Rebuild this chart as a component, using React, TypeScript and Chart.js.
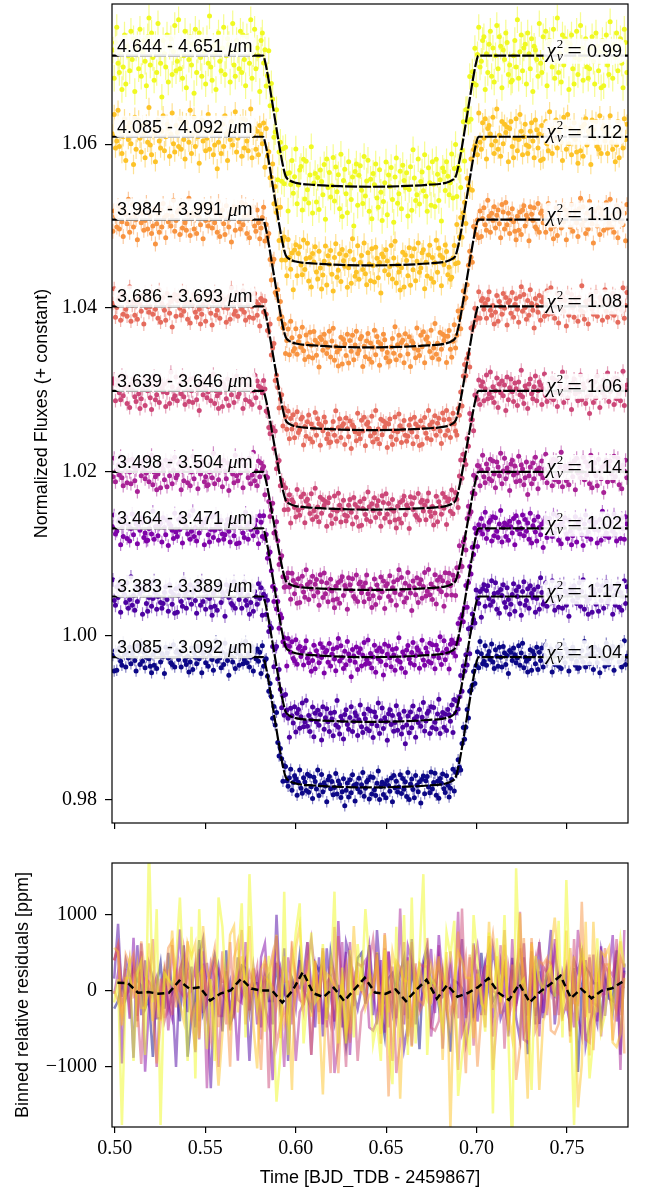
import { useEffect, useRef } from "react";
import { Chart, registerables } from "chart.js";

Chart.register(...registerables);

// ---------------- data ----------------
const WAVE_LABELS = [
  "4.644 - 4.651", "4.085 - 4.092", "3.984 - 3.991", "3.686 - 3.693", "3.639 - 3.646",
  "3.498 - 3.504", "3.464 - 3.471", "3.383 - 3.389", "3.085 - 3.092",
];
const CHI2_VALUES = ["0.99", "1.12", "1.10", "1.08", "1.06", "1.14", "1.02", "1.17", "1.04"];
const BASELINES = [1.0708, 1.0609, 1.0508, 1.0402, 1.0299, 1.0200, 1.0131, 1.0048, 0.9974];
const DEPTHS = [0.0160, 0.0157, 0.0156, 0.0151, 0.0145, 0.0144, 0.0157, 0.0153, 0.0159];
const SIGMAS = [0.0023, 0.0017, 0.0013, 0.0012, 0.0012, 0.0012, 0.0011, 0.0012, 0.0010];
const COLORS = ["#f0f921", "#fdc328", "#f89441", "#e56b5d", "#cc4778", "#a82296", "#7e03a8", "#4c02a1", "#0d0887"];
const NOISE_OFFSETS = [0, 47, 95, 141, 188, 236, 283, 331, 378];
// scatter about the model, in tenths of the per-point sigma
const NOISE_POOL = [
  3, -12, 7, 15, -4, -9, 1, -18, -6, 11,
  -15, 5, 0, -8, 13, -2, 9, -19, 4, 6,
  -7, 14, -11, 2, 8, -3, -16, 10, 20, -5,
  12, -1, -13, 6, -9, 17, 3, -4, -22, 8,
  1, -6, 11, -14, 5, 9, -10, 2, 16, -8,
  -3, 19, -7, 4, -12, 0, 13, -17, 7, -2,
  10, -5, 6, -20, 14, -9, 3, 12, -1, -11,
  8, 2, -15, 9, -4, 21, -6, -13, 5, 1,
  -18, 7, 12, -3, -8, 4, 15, -10, 0, 9,
  6, -14, 2, 17, -5, -11, 8, 3, -7, 13,
  -9, 11, -2, -16, 10, 5, -4, 19, -12, 1,
  14, -7, 4, 0, -19, 8, 12, -3, 6, -10,
  -1, 16, -9, 7, 3, -13, -6, 10, -23, -4,
  5, -12, 9, -7, 15, 2, -17, 4, -2, 11,
  -6, 3, 18, -11, -1, 7, 9, -14, 13, -8,
  12, -3, -10, 5, 20, -15, 1, 6, -9, 4,
  -13, 8, 2, -5, 11, -18, 14, -1, 7, -6,
  0, 15, -8, 10, -3, 6, -12, 17, -16, 3,
  9, -4, -14, 13, 1, -7, 5, -21, 8, 12,
  -10, 6, 11, -2, -9, 16, -5, 3, 14, -13,
  4, -17, 7, 1, 12, -6, -11, 9, -3, -18,
  -8, 2, 13, -15, 6, 0, 10, -7, -19, 5,
  15, -9, -4, 8, -12, 11, 3, -1, 7, -16,
  -2, 10, -13, 19, 4, -8, -5, 14, -10, 2,
  7, -3, 16, -6, -14, 9, 1, -11, 12, 0,
  -12, 13, 5, -9, 2, -20, 8, 6, -4, 11,
  3, -7, -1, 14, -10, 5, 17, -13, 0, -5,
  -18, -2, 9, -16, 7, 3, -8, 12, -15, 6,
  -4, 11, -12, 2, 15, -6, -3, 8, 10, -18,
  1, -9, 6, 13, -11, 4, -14, 0, 16, -7,
  10, 5, -17, 3, -2, 12, 7, -10, -5, -14,
  -13, 0, 8, -6, 19, -12, 2, 11, -8, 4,
  6, -15, 12, 1, -7, 9, -19, 5, 3, -2,
  -11, 17, -4, -9, 10, -1, 13, -16, 6, 8,
  2, -6, 14, -12, -3, 20, -9, 1, -14, 11,
  -5, 9, 3, 7, -18, 6, 11, -7, -15, -1,
  13, -10, -2, 16, 4, -13, 0, 9, -6, -12,
  -7, 4, 10, -3, -15, 12, 5, -8, 2, -17,
  8, -16, 1, 11, -5, -10, 18, 3, -12, 6,
  -1, 12, -8, 4, 9, -4, -17, 14, 7, -9,
  16, -5, 6, -13, 0, 10, -2, -11, -19, 3,
  -10, 7, -14, 9, 13, -6, 4, 1, -20, 12,
  5, -1, 11, -7, -9, 15, -12, 6, 8, -3,
];
const T_START = 0.499;
const CADENCE = 0.000712;
const N_POINTS = 400;
const BIN_SIZE = 3;
const MEAN_BIN_SIZE = 8;
// transit model shape (0 = out of transit, -1 = deepest)
const MODEL_T = [
  0.4985, 0.5820, 0.5832, 0.5850, 0.5870, 0.5890, 0.5910, 0.5930, 0.5945, 0.5965, 0.6000, 0.6100, 0.6250, 0.6415,
  0.6580, 0.6730, 0.6830, 0.6865, 0.6885, 0.6900, 0.6920, 0.6940, 0.6960, 0.6980, 0.6998, 0.7010, 0.7837,
];
const MODEL_S = [
  0, 0, -0.05, -0.18, -0.35, -0.52, -0.69, -0.84, -0.92, -0.95, -0.97, -0.985, -0.996, -1.0,
  -0.996, -0.985, -0.97, -0.95, -0.92, -0.84, -0.69, -0.52, -0.35, -0.18, -0.05, 0, 0,
];
const X_TICKS = [0.5, 0.55, 0.6, 0.65, 0.7, 0.75];
const FLUX_TICKS = [0.98, 1.0, 1.02, 1.04, 1.06];
const RESID_TICKS = [-1000, 0, 1000];
const X_MIN = 0.4985, X_MAX = 0.7837;
const FLUX_MIN = 0.97716, FLUX_MAX = 1.0771;
const RESID_MIN = -1789, RESID_MAX = 1680;

// ---------------- helpers ----------------
const SANS = '"Liberation Sans", Arial, sans-serif';
const SERIF = '"Liberation Serif", "Times New Roman", serif';

function rgba(hex: string, a: number) {
  const r = parseInt(hex.slice(1, 3), 16), g = parseInt(hex.slice(3, 5), 16), b = parseInt(hex.slice(5, 7), 16);
  return `rgba(${r},${g},${b},${a})`;
}
function modelShape(t: number) {
  for (let k = 0; k < MODEL_T.length - 1; k++) {
    if (t >= MODEL_T[k] && t <= MODEL_T[k + 1]) {
      const f = (t - MODEL_T[k]) / (MODEL_T[k + 1] - MODEL_T[k]);
      return MODEL_S[k] + f * (MODEL_S[k + 1] - MODEL_S[k]);
    }
  }
  return 0;
}
const TIMES = Array.from({ length: N_POINTS }, (_, j) => T_START + j * CADENCE);
const noiseOf = (i: number, j: number) => NOISE_POOL[(j + NOISE_OFFSETS[i]) % NOISE_POOL.length] / 10;

const CURVES = BASELINES.map((b, i) =>
  TIMES.map((t, j) => ({ x: t, y: b + DEPTHS[i] * modelShape(t) + noiseOf(i, j) * SIGMAS[i] }))
);
function binResiduals(i: number, size: number) {
  const out: { x: number; y: number }[] = [];
  const nb = Math.floor(N_POINTS / size);
  for (let k = 0; k < nb; k++) {
    let st = 0, sr = 0;
    for (let m = 0; m < size; m++) {
      const p = CURVES[i][k * size + m];
      st += p.x;
      sr += (p.y - (BASELINES[i] + DEPTHS[i] * modelShape(p.x))) * 1e6;
    }
    out.push({ x: st / size, y: sr / size });
  }
  return out;
}
const RESIDUALS = BASELINES.map((_, i) => binResiduals(i, BIN_SIZE));
const COARSE = BASELINES.map((_, i) => binResiduals(i, MEAN_BIN_SIZE));
const MEAN_RESID = COARSE[0].map((p, k) => ({
  x: p.x,
  y: COARSE.reduce((s, r) => s + r[k].y, 0) / COARSE.length,
}));

function drawLeftLabel(ctx: CanvasRenderingContext2D, x: number, cy: number, text: string) {
  ctx.save();
  const fs = `18px ${SANS}`, fm = `italic 19px ${SERIF}`;
  ctx.font = fs; const w1 = ctx.measureText(text + " ").width;
  ctx.font = fm; const w2 = ctx.measureText("μ").width;
  ctx.font = fs; const w3 = ctx.measureText("m").width;
  const W = w1 + w2 + w3;
  ctx.fillStyle = "rgba(255,255,255,0.9)";
  ctx.beginPath();
  ctx.roundRect(x - 3, cy - 11, W + 6, 22, 6);
  ctx.fill();
  ctx.fillStyle = "#000";
  ctx.textBaseline = "middle";
  ctx.textAlign = "left";
  ctx.font = fs; ctx.fillText(text + " ", x, cy + 1);
  ctx.font = fm; ctx.fillText("μ", x + w1, cy + 1);
  ctx.font = fs; ctx.fillText("m", x + w1 + w2, cy + 1);
  ctx.restore();
}

function drawChiLabel(ctx: CanvasRenderingContext2D, right: number, cy: number, val: string) {
  ctx.save();
  const fChi = `italic 21px ${SERIF}`, fSup = `13px ${SERIF}`, fSub = `italic 14px ${SERIF}`;
  const fEq = `26px ${SERIF}`, fNum = `18px ${SANS}`;
  ctx.font = fChi; const wChi = ctx.measureText("χ").width;
  ctx.font = fSup; const w2 = ctx.measureText("2").width;
  ctx.font = fSub; const wNu = ctx.measureText("ν").width;
  ctx.font = fEq; const wEq = ctx.measureText("=").width;
  ctx.font = fNum; const wNum = ctx.measureText(val).width;
  const wSS = Math.max(w2, wNu);
  const W = wChi + 1 + wSS + 4 + wEq + 5 + wNum;
  const x0 = right - W;
  ctx.fillStyle = "rgba(255,255,255,0.9)";
  ctx.beginPath();
  ctx.roundRect(x0 - 3, cy - 12, W + 6, 25, 6);
  ctx.fill();
  ctx.fillStyle = "#000";
  ctx.textBaseline = "middle";
  ctx.textAlign = "left";
  let x = x0;
  ctx.font = fChi; ctx.fillText("χ", x, cy + 1); x += wChi + 1;
  ctx.font = fSup; ctx.fillText("2", x, cy - 6);
  ctx.font = fSub; ctx.fillText("ν", x, cy + 7); x += wSS + 4;
  ctx.font = fEq; ctx.fillText("=", x, cy + 2); x += wEq + 5;
  ctx.font = fNum; ctx.fillText(val, x, cy + 1);
  ctx.restore();
}

function drawFrame(chart: any) {
  const { ctx, chartArea: a } = chart;
  ctx.save();
  ctx.strokeStyle = "#000";
  ctx.lineWidth = 1.2;
  ctx.strokeRect(a.left, a.top, a.right - a.left, a.bottom - a.top);
  ctx.restore();
}

function drawText(ctx: CanvasRenderingContext2D, text: string, x: number, y: number, rot: number, font: string) {
  ctx.save();
  ctx.translate(x, y);
  ctx.rotate(rot);
  ctx.font = font;
  ctx.fillStyle = "#000";
  ctx.textAlign = "center";
  ctx.textBaseline = "middle";
  ctx.fillText(text, 0, 0);
  ctx.restore();
}

const errorBarPlugin = {
  id: "errorBars",
  beforeDatasetDraw(chart: any, args: any) {
    const ds = chart.data.datasets[args.index];
    if (!ds.errSigma) return;
    const { ctx, chartArea: a, scales } = chart;
    ctx.save();
    ctx.beginPath();
    ctx.rect(a.left, a.top, a.right - a.left, a.bottom - a.top);
    ctx.clip();
    ctx.strokeStyle = ds.errColor;
    ctx.lineWidth = 1.2;
    ctx.beginPath();
    for (const p of ds.data) {
      const px = scales.x.getPixelForValue(p.x);
      ctx.moveTo(px, scales.y.getPixelForValue(p.y - ds.errSigma));
      ctx.lineTo(px, scales.y.getPixelForValue(p.y + ds.errSigma));
    }
    ctx.stroke();
    ctx.restore();
  },
};

const topDecor = {
  id: "topDecor",
  afterDatasetsDraw(chart: any) {
    const { ctx, chartArea, scales } = chart;
    BASELINES.forEach((b, i) => {
      const py = scales.y.getPixelForValue(b);
      drawLeftLabel(ctx, chartArea.left + 5, py - 10, WAVE_LABELS[i]);
      drawChiLabel(ctx, chartArea.right - 6, py - 5, CHI2_VALUES[i]);
    });
  },
  afterDraw(chart: any) {
    drawFrame(chart);
    const { ctx, chartArea: a } = chart;
    drawText(ctx, "Normalized Fluxes (+ constant)", 42, (a.top + a.bottom) / 2, -Math.PI / 2, `18px ${SANS}`);
  },
};

const bottomDecor = {
  id: "bottomDecor",
  afterDraw(chart: any) {
    drawFrame(chart);
    const { ctx, chartArea: a } = chart;
    drawText(ctx, "Binned relative residuals [ppm]", 23, (a.top + a.bottom) / 2, -Math.PI / 2, `18px ${SANS}`);
    drawText(ctx, "Time [BJD_TDB - 2459867]", (a.left + a.right) / 2, a.bottom + 51, 0, `18px ${SANS}`);
  },
};

const tickFont = { family: SERIF, size: 20 };
const fixX = (h: number) => (s: any) => { s.height = h; s.paddingLeft = 0; s.paddingRight = 0; s.paddingTop = 0; s.paddingBottom = 0; };
const fixY = (w: number) => (s: any) => { s.width = w; s.paddingLeft = 0; s.paddingRight = 0; s.paddingTop = 0; s.paddingBottom = 0; };

export default function App() {
  const topRef = useRef<HTMLCanvasElement>(null);
  const botRef = useRef<HTMLCanvasElement>(null);

  useEffect(() => {
    const modelSets = BASELINES.map((b, i) => ({
      label: "model " + i,
      data: MODEL_T.map((t, k) => ({ x: t, y: b + DEPTHS[i] * MODEL_S[k] })),
      showLine: true,
      borderColor: "#000",
      borderWidth: 2.2,
      borderDash: [12, 2],
      pointRadius: 0,
      cubicInterpolationMode: "monotone",
      order: 0,
    }));
    const pointSets = CURVES.map((pts, i) => ({
      label: WAVE_LABELS[i],
      data: pts,
      showLine: false,
      pointRadius: 2.5,
      pointBorderWidth: 0,
      pointBackgroundColor: COLORS[i],
      errSigma: SIGMAS[i] * 0.7,
      errColor: rgba(COLORS[i], 0.5),
      order: 1,
    }));

    const top = new Chart(topRef.current!, {
      type: "scatter",
      data: { datasets: [...modelSets, ...pointSets] as any },
      options: {
        responsive: false,
        animation: false,
        devicePixelRatio: 1,
        events: [],
        layout: { padding: { top: 3, right: 21, left: 0, bottom: 0 } },
        plugins: { legend: { display: false }, tooltip: { enabled: false } },
        scales: {
          x: {
            type: "linear",
            min: X_MIN,
            max: X_MAX,
            afterBuildTicks: (s: any) => { s.ticks = X_TICKS.map((v) => ({ value: v })); },
            afterFit: fixX(27),
            ticks: { display: false },
            grid: { drawOnChartArea: false, drawTicks: true, tickLength: 6, color: "#000", lineWidth: 1.2 },
            border: { display: false },
          },
          y: {
            type: "linear",
            min: FLUX_MIN,
            max: FLUX_MAX,
            afterBuildTicks: (s: any) => { s.ticks = FLUX_TICKS.map((v) => ({ value: v })); },
            afterFit: fixY(112),
            ticks: { font: tickFont, color: "#000", padding: 8, callback: (v: any) => Number(v).toFixed(2) },
            grid: { drawOnChartArea: false, drawTicks: true, tickLength: 7, color: "#000", lineWidth: 1.2 },
            border: { display: false },
          },
        },
      } as any,
      plugins: [errorBarPlugin, topDecor],
    });

    const residSets = RESIDUALS.map((r, i) => ({
      label: "resid " + i,
      data: r,
      showLine: true,
      borderColor: rgba(COLORS[i], 0.5),
      borderWidth: 2.5,
      pointRadius: 0,
      order: 1,
    }));
    const meanSet = {
      label: "mean",
      data: MEAN_RESID,
      showLine: true,
      borderColor: "#000",
      borderWidth: 2.5,
      borderDash: [7, 4],
      pointRadius: 0,
      order: 0,
    };

    const bot = new Chart(botRef.current!, {
      type: "scatter",
      data: { datasets: [meanSet, ...residSets] as any },
      options: {
        responsive: false,
        animation: false,
        devicePixelRatio: 1,
        events: [],
        layout: { padding: { top: 13, right: 21, left: 0, bottom: 0 } },
        plugins: { legend: { display: false }, tooltip: { enabled: false } },
        scales: {
          x: {
            type: "linear",
            min: X_MIN,
            max: X_MAX,
            afterBuildTicks: (s: any) => { s.ticks = X_TICKS.map((v) => ({ value: v })); },
            afterFit: fixX(60),
            ticks: { font: tickFont, color: "#000", padding: 4, maxRotation: 0, callback: (v: any) => Number(v).toFixed(2) },
            grid: { drawOnChartArea: false, drawTicks: true, tickLength: 6, color: "#000", lineWidth: 1.2 },
            border: { display: false },
          },
          y: {
            type: "linear",
            min: RESID_MIN,
            max: RESID_MAX,
            afterBuildTicks: (s: any) => { s.ticks = RESID_TICKS.map((v) => ({ value: v })); },
            afterFit: fixY(112),
            ticks: {
              font: tickFont,
              color: "#000",
              padding: 8,
              callback: (v: any) => (Number(v) < 0 ? "\u2212" + Math.abs(Number(v)) : String(v)),
            },
            grid: { drawOnChartArea: false, drawTicks: true, tickLength: 7, color: "#000", lineWidth: 1.2 },
            border: { display: false },
          },
        },
      } as any,
      plugins: [bottomDecor],
    });

    return () => {
      top.destroy();
      bot.destroy();
    };
  }, []);

  return (
    <div style={{ position: "absolute", left: 0, top: 0, width: 649, height: 1187, background: "#fff" }}>
      <canvas ref={topRef} width={649} height={850} style={{ position: "absolute", left: 0, top: 0, display: "block" }} />
      <canvas ref={botRef} width={649} height={337} style={{ position: "absolute", left: 0, top: 850, display: "block" }} />
    </div>
  );
}
